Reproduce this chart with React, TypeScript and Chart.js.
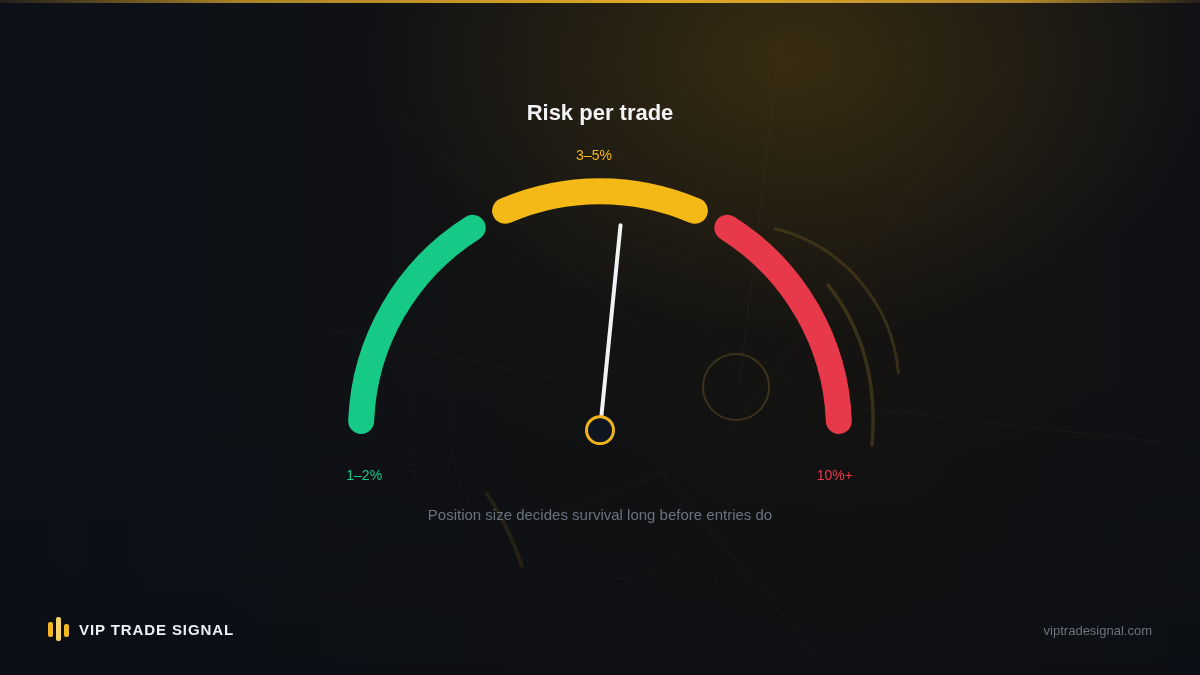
import React, { useEffect, useRef } from 'react';
import { Chart, ChartConfiguration, registerables } from 'chart.js';

Chart.register(...registerables);

// gauge bands (share of the dial) and needle reading
const bandLabels = ['1–2%', '3–5%', '10%+'];
const bandWidths = [35, 30, 35];
const bandColors = ['#17c986', '#f4b917', '#e8394a'];
const needleValue = 53.1;

const FONT = '"Liberation Sans", Arial, Helvetica, sans-serif';

const gaugePlugin = {
  id: 'gaugeNeedle',
  afterDatasetsDraw(chart: Chart) {
    const meta = chart.getDatasetMeta(0);
    const arcs = meta.data as any[];
    if (!arcs.length) return;
    const ctx = chart.ctx;
    const { x: cx, y: cy } = arcs[0];
    const sp = ((chart.data.datasets[0] as any).spacing || 0) / 2;
    const outer = arcs[0].outerRadius + sp;
    const inner = arcs[0].innerRadius + sp;
    const mid = (outer + inner) / 2;
    const start = arcs[0].startAngle;
    const end = arcs[arcs.length - 1].endAngle;
    const total = bandWidths.reduce((a, b) => a + b, 0);

    // band labels
    ctx.save();
    ctx.font = `14px ${FONT}`;
    ctx.textAlign = 'center';
    ctx.textBaseline = 'middle';
    ctx.fillStyle = bandColors[0];
    ctx.fillText(bandLabels[0], cx + mid * Math.cos(start) + 3, cy + 46);
    const ym = (arcs[1].startAngle + arcs[1].endAngle) / 2;
    ctx.fillStyle = bandColors[1];
    ctx.fillText(bandLabels[1], cx + (outer + 22) * Math.cos(ym) - 6, cy + (outer + 22) * Math.sin(ym));
    ctx.fillStyle = bandColors[2];
    ctx.fillText(bandLabels[2], cx + mid * Math.cos(end) - 4, cy + 46);

    // needle
    const a = start + (needleValue / total) * (end - start);
    ctx.strokeStyle = '#f1f2f4';
    ctx.lineWidth = 4;
    ctx.lineCap = 'round';
    ctx.beginPath();
    ctx.moveTo(cx, cy);
    ctx.lineTo(cx + 206 * Math.cos(a), cy + 206 * Math.sin(a));
    ctx.stroke();

    // pivot
    ctx.beginPath();
    ctx.arc(cx, cy, 13.5, 0, Math.PI * 2);
    ctx.fillStyle = '#0f1521';
    ctx.fill();
    ctx.lineWidth = 3;
    ctx.strokeStyle = '#f0b41c';
    ctx.stroke();
    ctx.restore();
  },
};

const GaugeChart: React.FC = () => {
  const chartRef = useRef<HTMLCanvasElement>(null);
  const chartInstanceRef = useRef<Chart | null>(null);

  useEffect(() => {
    if (!chartRef.current) return;
    if (chartInstanceRef.current) {
      chartInstanceRef.current.destroy();
    }
    const ctx = chartRef.current.getContext('2d');
    if (!ctx) return;

    const config: ChartConfiguration = {
      type: 'doughnut',
      data: {
        labels: bandLabels,
        datasets: [{
          data: bandWidths,
          backgroundColor: bandColors,
          borderWidth: 0,
          borderRadius: 13,
          spacing: 20,
          hoverOffset: 0,
        } as any]
      },
      options: {
        responsive: false,
        animation: false,
        events: [],
        rotation: -92.3,
        circumference: 184.6,
        radius: 242,
        cutout: '89.26%',
        layout: { padding: { bottom: 47 } },
        plugins: {
          legend: { display: false },
          tooltip: { enabled: false },
          title: { display: false },
        },
      } as any,
      plugins: [gaugePlugin],
    };

    chartInstanceRef.current = new Chart(ctx, config);

    return () => {
      if (chartInstanceRef.current) {
        chartInstanceRef.current.destroy();
        chartInstanceRef.current = null;
      }
    };
  }, []);

  return (
    <canvas
      ref={chartRef}
      width={1200}
      height={675}
      style={{ position: 'absolute', left: 0, top: 0, width: 1200, height: 675 }}
    />
  );
};

const Decor: React.FC = () => (
  <svg width={1200} height={675} style={{ position: 'absolute', left: 0, top: 0 }}>
    <g stroke="rgba(140,115,55,0.06)" strokeWidth={1.5} fill="none">
      <line x1={395} y1={110} x2={640} y2={330} />
      <line x1={1005} y1={65} x2={700} y2={470} />
      <line x1={1055} y1={258} x2={840} y2={345} />
      <line x1={1160} y1={442} x2={860} y2={408} />
      <line x1={780} y1={40} x2={740} y2={380} />
      <line x1={330} y1={330} x2={560} y2={380} />
      <line x1={820} y1={660} x2={660} y2={470} />
      <line x1={540} y1={520} x2={700} y2={460} />
    </g>
    <circle cx={600} cy={430} r={192} fill="none" stroke="rgba(140,120,70,0.12)" strokeWidth={1.5} strokeDasharray="1 7" />
    <circle cx={600} cy={430} r={150} fill="none" stroke="rgba(140,120,70,0.04)" strokeWidth={1} />
    <circle cx={736} cy={387} r={33} fill="none" stroke="rgba(100,84,36,0.5)" strokeWidth={2} />
    <path d="M 775.4 228.8 A 163 163 0 0 1 898.4 372.8" fill="none" stroke="rgba(90,74,30,0.5)" strokeWidth={3} strokeLinecap="round" />
    <path d="M 828 285 Q 880 350 872 445" fill="none" stroke="rgba(90,74,30,0.55)" strokeWidth={3.5} strokeLinecap="round" />
    <path d="M 487 494 Q 508 525 522 566" fill="none" stroke="rgba(100,82,30,0.25)" strokeWidth={4} strokeLinecap="round" />
  </svg>
);

const App: React.FC = () => {
  return (
    <div
      style={{
        position: 'relative',
        width: 1200,
        height: 675,
        overflow: 'hidden',
        fontFamily: FONT,
        background:
          'radial-gradient(ellipse 560px 380px at 790px 60px, rgba(92,68,18,0.5), rgba(92,68,18,0) 75%),' +
          'linear-gradient(180deg, rgba(0,0,0,0) 55%, rgba(10,13,20,0.55) 100%),' +
          'linear-gradient(90deg, #0c1018 0%, #111213 45%, #141311 70%, #0f1115 100%)',
      }}
    >
      <style>{`body{margin:0;background:#0c0f16;}`}</style>
      <div
        style={{
          position: 'absolute', left: 0, top: 0, width: 1200, height: 3,
          background: 'linear-gradient(90deg, rgba(160,120,40,0.15) 0%, #a98227 20%, #e2aa28 55%, #b48a2e 85%, rgba(150,120,50,0.15) 100%)',
        }}
      />
      <Decor />
      <GaugeChart />
      <div style={{ position: 'absolute', left: 0, top: 101, width: 1200, textAlign: 'center', fontSize: 22, lineHeight: '24px', fontWeight: 700, color: '#f3f4f6' }}>
        Risk per trade
      </div>
      <div style={{ position: 'absolute', left: 0, top: 506, width: 1200, textAlign: 'center', fontSize: 15, lineHeight: '18px', color: '#6b7280' }}>
        Position size decides survival long before entries do
      </div>
      <div style={{ position: 'absolute', left: 48, top: 617, height: 24 }}>
        <div style={{ position: 'absolute', left: 0, top: 5, width: 5, height: 15, borderRadius: 2, background: '#f2b824' }} />
        <div style={{ position: 'absolute', left: 8, top: 0, width: 5, height: 24, borderRadius: 2, background: '#f6d36a' }} />
        <div style={{ position: 'absolute', left: 16, top: 7, width: 5, height: 13, borderRadius: 2, background: '#f2b824' }} />
      </div>
      <div style={{ position: 'absolute', left: 79, top: 621, fontSize: 15, lineHeight: '18px', fontWeight: 700, letterSpacing: 0.9, color: '#eceef2' }}>
        VIP TRADE SIGNAL
      </div>
      <div style={{ position: 'absolute', right: 48, top: 622, fontSize: 13, lineHeight: '18px', color: '#6b7280' }}>
        viptradesignal.com
      </div>
    </div>
  );
};

export default App;
